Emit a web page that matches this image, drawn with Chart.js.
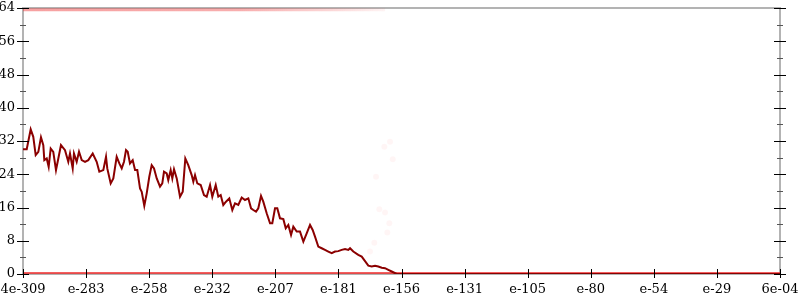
<!DOCTYPE html>
<html>
<head>
<meta charset="utf-8">
<script src="https://cdn.jsdelivr.net/npm/chart.js@4"></script>
<style>
  html, body { margin: 0; padding: 0; background: #fff; }
  #wrap { width: 800px; height: 300px; }
</style>
</head>
<body>
<div id="wrap"><canvas id="chart"></canvas></div>
<script>
// tick labels along the bottom axis (one per tick index 0..12)
const xLabels = ['4e-309', 'e-283', 'e-258', 'e-232', 'e-207', 'e-181', 'e-156',
  'e-131', 'e-105', 'e-80', 'e-54', 'e-29', '6e-04'];

// main curve, x in tick-index units
const curveX = [0, 0.059, 0.122, 0.163, 0.201, 0.243, 0.285, 0.322, 0.338, 0.376,
  0.407, 0.439, 0.480, 0.523, 0.560, 0.602, 0.666, 0.718, 0.745, 0.788,
  0.808, 0.851, 0.888, 0.931, 0.983, 1.035, 1.105, 1.168, 1.210, 1.273,
  1.316, 1.336, 1.390, 1.432, 1.485, 1.527, 1.565, 1.601, 1.633, 1.660,
  1.696, 1.739, 1.776, 1.812, 1.855, 1.882, 1.923, 1.961, 2.002, 2.040,
  2.077, 2.120, 2.172, 2.208, 2.235, 2.278, 2.303, 2.341, 2.367, 2.394,
  2.437, 2.489, 2.532, 2.573, 2.620, 2.674, 2.700, 2.727, 2.763, 2.817,
  2.869, 2.912, 2.965, 3.001, 3.055, 3.096, 3.134, 3.175, 3.218, 3.270,
  3.318, 3.361, 3.413, 3.467, 3.519, 3.572, 3.615, 3.651, 3.694, 3.730,
  3.773, 3.809, 3.863, 3.916, 3.952, 3.995, 4.031, 4.074, 4.127, 4.165,
  4.206, 4.249, 4.285, 4.339, 4.391, 4.444, 4.497, 4.550, 4.592, 4.629,
  4.681, 4.735, 4.787, 4.840, 4.894, 4.946, 4.998, 5.052, 5.105, 5.157,
  5.184, 5.236, 5.315, 5.369, 5.422, 5.474, 5.528, 5.580, 5.632, 5.686,
  5.739, 5.791, 5.845, 5.924, 12];
const curveY = [30.0, 30.0, 34.8, 33, 28.6, 29.4, 32.9, 31, 27.4, 27.8,
  25.8, 30.2, 29.4, 25, 27.8, 31, 29.8, 27, 29, 25.4,
  29, 27, 29.4, 27.4, 27, 27.4, 29, 27, 24.6, 25,
  28.2, 25.4, 21.8, 23, 28.2, 26.6, 25.4, 27, 29.8, 29.4,
  26.6, 27.4, 25, 25, 20.6, 19.8, 16.4, 19.4, 23.4, 26.2,
  25.4, 23, 21, 21.8, 24.6, 24.2, 22.6, 25, 23, 25.2,
  23, 18.6, 19.8, 27.8, 26.2, 23.8, 22.2, 23.8, 21.8, 21.4,
  19, 18.6, 21.4, 18.6, 21.4, 18.6, 19, 16.6, 17.4, 18.2,
  15.4, 17, 16.6, 18.4, 17.8, 18.2, 15.8, 15.4, 15, 15.8,
  18.8, 17.4, 14.6, 12.2, 12.2, 15.8, 15.8, 13.4, 13.2, 11,
  11.8, 9.4, 11.4, 10.2, 10.2, 7.8, 9.8, 11.8, 10.6, 9,
  6.6, 6.2, 5.8, 5.4, 5, 5.4, 5.5, 5.8, 6, 5.8,
  6.2, 5.4, 4.6, 4.2, 3.1, 2, 1.8, 2, 1.8, 1.5,
  1.4, 1, 0.6, 0, 0];

// dense red marks along the top and bottom edges
const topBandX = [0, 5.74];
const topBandY = [63.6, 63.6];
const bottomBandX = [0, 12];
const bottomBandY = [0, 0];

// faint stray points
const strayX = [5.728, 5.818, 5.861, 5.596, 5.648, 5.739, 5.807, 5.775, 5.569, 5.501];
const strayY = [30.6, 31.8, 27.6, 23.4, 15.6, 14.8, 12.2, 10, 7.5, 5.4];

const yMax = 64;
const yStep = 8;

function pts(xs, ys) {
  return xs.map((x, i) => ({ x: x, y: ys[i] }));
}

// top band fades out towards its right end
function topBandColor(context) {
  const chart = context.chart;
  const a = chart.chartArea;
  if (!a) return 'rgba(235, 30, 30, 0.4)';
  const x0 = chart.scales.x.getPixelForValue(topBandX[0]);
  const x1 = chart.scales.x.getPixelForValue(topBandX[topBandX.length - 1]);
  const g = chart.ctx.createLinearGradient(x0, 0, x1, 0);
  g.addColorStop(0, 'rgba(235, 30, 30, 0.42)');
  g.addColorStop(0.6, 'rgba(235, 30, 30, 0.36)');
  g.addColorStop(0.85, 'rgba(235, 30, 30, 0.18)');
  g.addColorStop(1, 'rgba(235, 30, 30, 0.05)');
  return g;
}

// frame and crossing tick marks
const framePlugin = {
  id: 'frame',
  beforeDatasetsDraw(chart) {
    const { ctx, chartArea: a } = chart;
    ctx.save();
    ctx.strokeStyle = '#b3b3b3';
    ctx.lineWidth = 2;
    ctx.beginPath();
    ctx.moveTo(a.left, a.bottom);
    ctx.lineTo(a.left, a.top);
    ctx.lineTo(a.right, a.top);
    ctx.lineTo(a.right, a.bottom);
    ctx.lineTo(a.left, a.bottom);
    ctx.stroke();
    ctx.restore();
  },
  afterDatasetsDraw(chart) {
    const { ctx, chartArea: a, scales } = chart;
    const y = scales.y, x = scales.x;
    ctx.save();
    ctx.lineWidth = 1;
    for (let v = 0; v <= yMax; v += yStep / 2) {
      const py = Math.round(y.getPixelForValue(v)) + 0.5;
      const major = v % yStep === 0;
      const h = major ? 6 : 3;
      ctx.strokeStyle = major ? '#000' : '#555';
      ctx.beginPath();
      ctx.moveTo(a.left - h, py); ctx.lineTo(a.left + h, py);
      ctx.moveTo(a.right - h, py); ctx.lineTo(a.right + h, py);
      ctx.stroke();
    }
    ctx.strokeStyle = '#000';
    for (let i = 0; i < xLabels.length; i++) {
      const px = Math.round(x.getPixelForValue(i)) + 0.5;
      ctx.beginPath();
      ctx.moveTo(px, a.bottom - 5); ctx.lineTo(px, a.bottom + 4);
      ctx.stroke();
    }
    ctx.restore();
  }
};

const tickFont = { family: 'DejaVu Serif', size: 13 };

new Chart(document.getElementById('chart'), {
  type: 'line',
  data: {
    datasets: [
      {
        data: pts(curveX, curveY),
        borderColor: '#8b0000',
        borderWidth: 2,
        pointRadius: 0,
        tension: 0
      },
      {
        type: 'scatter',
        data: pts(strayX, strayY),
        pointRadius: 3,
        pointBorderWidth: 0,
        backgroundColor: 'rgba(255, 0, 0, 0.04)'
      },
      {
        data: pts(topBandX, topBandY),
        borderWidth: 3,
        pointRadius: 0,
        borderColor: topBandColor
      },
      {
        data: pts(bottomBandX, bottomBandY),
        borderColor: 'rgba(240, 40, 40, 0.75)',
        borderWidth: 4,
        pointRadius: 0
      }
    ]
  },
  options: {
    responsive: true,
    maintainAspectRatio: false,
    animation: false,
    layout: { padding: { top: 8, right: 20, left: 0, bottom: 0 } },
    plugins: {
      legend: { display: false },
      tooltip: { enabled: false }
    },
    scales: {
      x: {
        type: 'linear',
        min: 0,
        max: xLabels.length - 1,
        afterFit: s => { s.height = 26; s.paddingLeft = 0; s.paddingRight = 0; },
        grid: { display: false, drawTicks: false },
        border: { display: false },
        ticks: {
          stepSize: 1,
          autoSkip: false,
          maxRotation: 0,
          padding: 8,
          color: '#000',
          font: tickFont,
          callback: v => xLabels[v]
        }
      },
      y: {
        min: 0,
        max: yMax,
        afterFit: s => { s.width = 23; s.paddingTop = 0; s.paddingBottom = 0; },
        grid: { display: false, drawTicks: false },
        border: { display: false },
        ticks: {
          stepSize: yStep,
          autoSkip: false,
          padding: 8,
          color: '#000',
          font: tickFont
        }
      }
    }
  },
  plugins: [framePlugin]
});
</script>
</body>
</html>
